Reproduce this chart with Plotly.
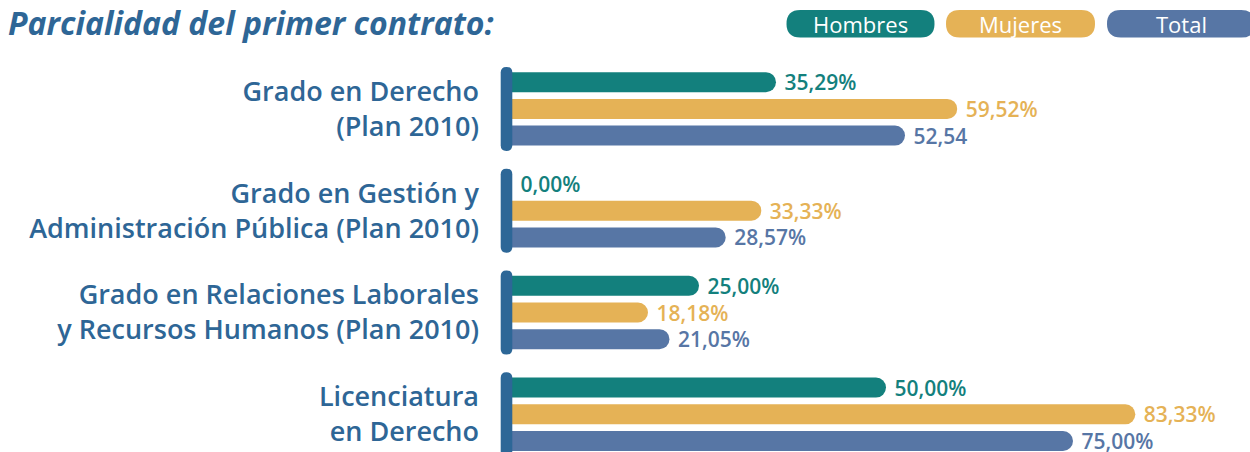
import plotly.graph_objects as go

categories = [
    "Grado en Derecho<br>(Plan 2010)",
    "Grado en Gestión y<br>Administración Pública (Plan 2010)",
    "Grado en Relaciones Laborales<br>y Recursos Humanos (Plan 2010)",
    "Licenciatura<br>en Derecho",
]
series_names = ["Hombres", "Mujeres", "Total"]
hombres = [35.29, 0.00, 25.00, 50.00]
mujeres = [59.52, 33.33, 18.18, 83.33]
total = [52.54, 28.57, 21.05, 75.00]
labels_hombres = ["35,29%", "0,00%", "25,00%", "50,00%"]
labels_mujeres = ["59,52%", "33,33%", "18,18%", "83,33%"]
labels_total = ["52,54", "28,57%", "21,05%", "75,00%"]

COLORS = {"Hombres": "#13807D", "Mujeres": "#E5B256", "Total": "#5776A5"}
DARK = "#2D6797"
TEXT = "#2E6696"
FONT = "Open Sans"

W, H = 1250, 452
ML, MR, MT, MB = 512, 27, 58, 0
PW, PH = W - ML - MR, H - MT - MB

fig = go.Figure()
for name, vals, labs in [("Hombres", hombres, labels_hombres),
                         ("Mujeres", mujeres, labels_mujeres),
                         ("Total", total, labels_total)]:
    fig.add_trace(go.Bar(
        name=name, y=categories, x=vals, orientation="h",
        marker=dict(color=COLORS[name], cornerradius=10, line=dict(width=0)),
        text=["\u00a0" + t for t in labs], textposition="outside",
        textfont=dict(family=FONT, size=21, color=COLORS[name], weight=600),
        constraintext="none", cliponaxis=False, hoverinfo="skip",
    ))


def rrect(x0, x1, y0, y1, r):
    return (f"M{x0+r},{y0} L{x1-r},{y0} Q{x1},{y0} {x1},{y0+r} "
            f"L{x1},{y1-r} Q{x1},{y1} {x1-r},{y1} L{x0+r},{y1} "
            f"Q{x0},{y1} {x0},{y1-r} L{x0},{y0+r} Q{x0},{y0} {x0+r},{y0} Z")


shapes = []
for i in range(len(categories)):
    shapes.append(dict(
        type="path", xref="paper", yref="y", xsizemode="pixel", ysizemode="pixel",
        xanchor=0, yanchor=i, path=rrect(-11.3, 0.3, -42, 42, 5.6),
        fillcolor=DARK, line=dict(width=0), layer="above"))

# legend pills (pixel centers converted to paper coords)
pills = [("Hombres", 860.5, 148), ("Mujeres", 1020.5, 149), ("Total", 1181, 148)]
annotations = []
for name, cx, w in pills:
    px_ = (cx - ML) / PW
    py_ = 1 + (MT - 23.8) / PH
    shapes.append(dict(
        type="path", xref="paper", yref="paper", xsizemode="pixel", ysizemode="pixel",
        xanchor=px_, yanchor=py_, path=rrect(-w / 2, w / 2, -13.8, 13.8, 13.8),
        fillcolor=COLORS[name], line=dict(width=0), layer="above"))
    annotations.append(dict(
        x=px_, y=py_, xref="paper", yref="paper", text=name, showarrow=False,
        xanchor="center", yanchor="middle",
        font=dict(family=FONT, size=22, color="white", weight=500)))

fig.update_layout(
    width=W, height=H, margin=dict(l=ML, r=MR, t=MT, b=MB),
    paper_bgcolor="white", plot_bgcolor="white",
    barmode="group", bargap=0.213, bargroupgap=0.25, showlegend=False,
    title=dict(text="Parcialidad del primer contrato:", xref="container", yref="container",
               x=8 / W, xanchor="left", y=1 - 24 / H, yanchor="middle",
               font=dict(family=FONT, size=32, color=TEXT, weight="bold", style="italic")),
    xaxis=dict(range=[0, PW / 7.48], visible=False, fixedrange=True),
    yaxis=dict(range=[-0.5 + PH / 101.8, -0.5], showgrid=False, zeroline=False, showline=False,
               ticks="", ticklabelstandoff=32, fixedrange=True,
               tickfont=dict(family=FONT, size=27, color=TEXT, weight=600)),
    shapes=shapes, annotations=annotations,
)

fig.write_html(
    "out.html",
    config={"displayModeBar": False},
    post_script="document.body.style.margin='0';document.body.style.overflow='hidden';"
                "document.documentElement.style.overflow='hidden';",
)
